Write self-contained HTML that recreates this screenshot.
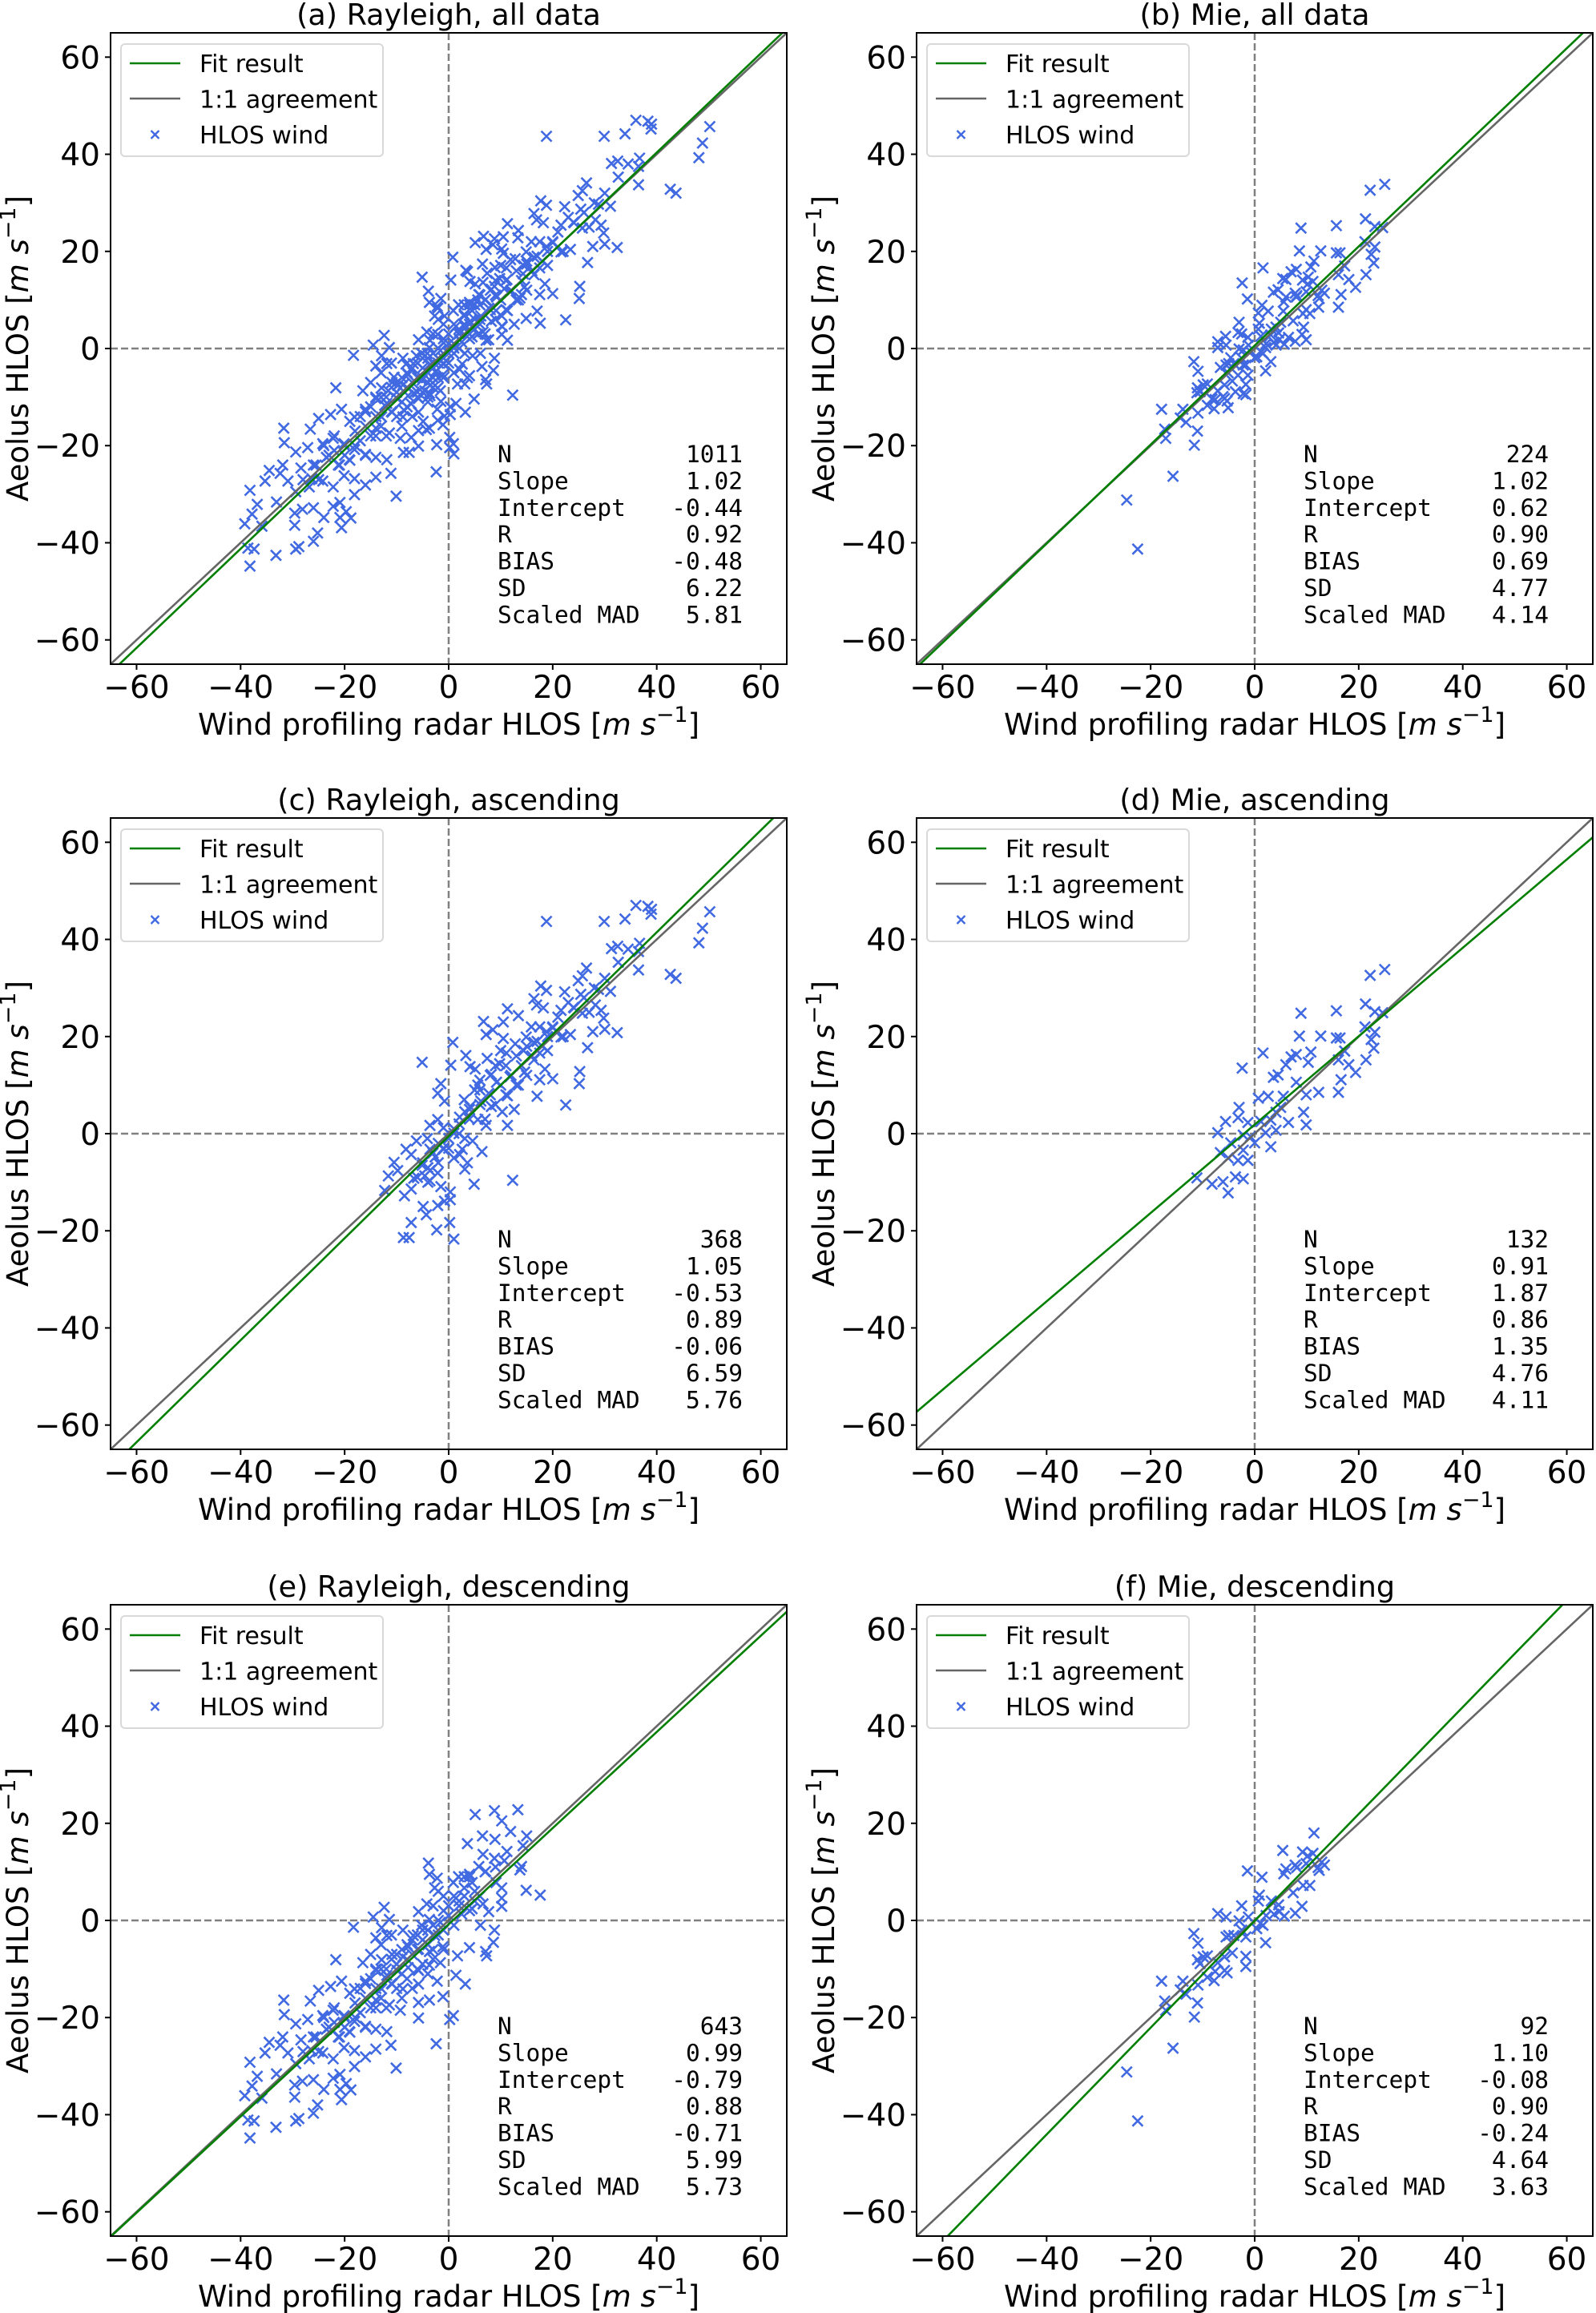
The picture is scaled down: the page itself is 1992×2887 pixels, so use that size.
<!DOCTYPE html>
<html><head><meta charset="utf-8">
<style>
html,body{margin:0;padding:0;background:#fff;}
svg{display:block;}
text{font-family:"DejaVu Sans","Liberation Sans",sans-serif;fill:#000;}
.mono{font-family:"DejaVu Sans Mono","Liberation Mono",monospace;}
</style></head>
<body>
<svg id="fig" width="1992" height="2887" viewBox="0 0 1992 2887" xmlns="http://www.w3.org/2000/svg"></svg>
<script>
// ---- data (units m/s) ----
const ptsC_x=[36,38.3,39,38.9,50.2,18.8,29.9,33.9,48.8,48.1,31.3,32.5,34.5,36.7,36.5,32.6,36.5,42.6,43.7,26.5,25.7,24.9,30,28.8,31.1,17.7,18.8,22.3,25.4,16.4,16.9,18.2,11.3,13.4,21.6,24.1,25.7,28.2,29.3,29.8,30,27.7,32.4,26.7,6.7,10.5,8.5,7.2,10.5,15.9,17.5,18.8,20,21.6,23.4,14.9,16.4,12.8,10,11.1,14.4,17.5,19,16.4,14.6,18.5,20,17.5,25.2,25.1,3.3,4.1,5.1,7.4,8.2,9.8,11.8,13.4,9.2,5.6,7.7,11.3,12.6,11.3,10.3,8.2,6.2,4.1,3.1,2.1,5.6,7.2,17,22.5,-5.1,0.8,0.4,-1.5,-2.1,-0.8,-3.6,-2.1,-1,1,3.1,4.6,6.4,2.6,2.1,3.6,3.1,-6.2,-8.2,-7.2,-4.1,-3.6,-2.6,-1,-10.5,-11.6,-9.8,-5.1,-3.6,-2.1,-6.7,-7.2,-8.5,-4.6,-3.6,-1.5,0.3,0.3,4.9,12.3,-4.9,-2.1,-0.8,-4.3,-7.2,0.2,-2.3,-8.7,-7.6,1,-12.3,0,1,-2,2,4,6,8,10,12,14,16,7,9,11,13,15,5,3,-3,-5,-1,18,20,22,6,9,1,-4,-6,24,26,28,21,19,17,13,11,8,6,4,2,0,-2,-4,15,23,27];
const ptsC_y=[47.0,46.8,46.2,45.2,45.7,43.7,43.7,44.2,42.3,39.3,38.1,38.6,38.0,39.2,37.5,35.3,33.7,32.8,32.0,34.1,32.5,31.5,32.0,29.7,29.3,30.4,29.5,29.2,28.7,27.8,26.5,25.9,25.7,24.3,25.4,25.9,24.8,26.5,25.4,23.8,21.5,21.0,20.8,17.7,23.1,23.0,21.4,20.4,19.6,22.0,22.0,21.0,21.8,19.9,20.4,19.9,18.8,18.5,17.1,16.6,17.1,16.6,17.1,15.2,12.7,13.3,11.3,11.1,12.8,10.3,16.1,13.8,13.3,15.5,12.2,14.4,11.7,10.0,10.6,10.0,8.3,7.8,5.0,1.7,4.5,5.6,6.7,5.6,4.5,3.4,2.9,1.7,7.7,5.9,14.7,18.8,14.1,10.3,8.3,6.7,1.7,2.9,1.2,0.1,-1.0,-1.5,-3.7,-3.2,-4.3,-6.0,-7.3,-1.5,-3.2,-4.3,-1.0,-3.2,-4.8,-3.2,-5.9,-8.7,-7.6,-6.5,-7.6,-8.1,-9.2,-11.4,-12.8,-8.7,-9.7,-10.9,-12.0,-13.6,-10.4,-9.6,-15.0,-14.8,-13.9,-16.7,-18.3,-18.3,-19.8,-21.4,-21.4,-21.7,-11.7,-1,1,-2,2,5,6,8,10,12,14,16,3,6,8,10,12,9,7,-4,-6,-3,18,22,20,11,14,-5,-10,-9,26,28,30,24,20,19,16,14,12,9,3,0,-3,-6,-7,18,27,25];
const ptsE_x=[13.3,8.8,5.1,10.2,11.9,6.5,8.9,15,3.6,14.3,11.2,6.6,8.8,10.7,14,13.7,5.8,7.1,4,1.9,0.9,3,4.5,9.1,10.2,14.9,17.6,10.2,10.2,6.6,7.7,4.5,1.4,2.5,6.1,8.8,8.6,7.1,7.3,4,1.7,1.4,3.2,0.9,0.2,-2.4,-3.9,-3.7,-2.2,-2.7,-4.2,-5.8,-12.4,-14.5,-18.3,-11.4,-12.9,-14,-11.9,-8.8,-6.8,-5.2,-3.7,-1.6,-2.7,-1.1,-3.7,-5.8,-7.8,-8.8,-10.9,-12.9,-15,-16.5,-21.7,-14,-11.9,-9.9,-7.8,-5.8,-3.7,-1.6,-2.2,-5.8,-8.8,-10.9,-12.9,-14,-11.4,-9.3,-5.8,-3.7,-1.1,-5.8,-16,-18.1,-20.6,-22.7,-25,-26.6,-31.7,-31.6,-29.4,-27.1,-24.2,-22.2,-20.1,-18.1,-16,-14,-11.9,-19.1,-21.2,-23.5,-25.5,-26.3,-28.4,-31.9,-34.5,-32.4,-30.9,-35.3,-29.4,-26.8,-24.2,-22.2,-20.1,-18.1,-16,-14,-11.1,-10.1,-18.1,-20.9,-22.2,-26,-28.1,-29.6,-24,-19.7,-18.8,-20.9,-20.6,-29.6,-33.1,-36.8,-38.2,-37.8,-39.2,-35.9,-25.2,-26,-28.8,-29.4,-38.6,-37.4,-33.2,-38.2,-2,-4,-6,-8,-10,-12,-14,-16,-18,-6,-8,-10,-3,-5,-1,0,2,3,5,1,-7,-9,-11,-13,-15,-17,-19,-4,-7,-9,-12,-14,-16,-2,1,3,5,-1,-3,-5,-20,-22,-13,-11,-24,-26,-28,-22,-20,-18,-16,-14,-12,-10,-8,-6,-4,-2,-1,0,2,4,6,-9,-11,-13,-15,-17,-19,-21,-23,-25,-7,-5,-3,-3,-1,4,7,9];
const ptsE_y=[22.8,22.6,21.8,20.5,18.3,17.4,16.7,17.4,15.8,15.4,14.2,13.6,12.8,12.3,11.1,10.4,11.1,10.1,9.5,9.0,7.8,6.7,7.8,7.8,6.7,6.2,5.2,4.6,2.9,3.4,1.8,2.4,4.6,1.3,-1.0,-2.0,-4.5,-6.4,-7.3,-5.6,-7.3,-11.3,-13.1,-19.6,-20.4,-25.4,11.8,9.5,8.7,6.7,3.4,1.8,2.7,0.7,-1.4,0.2,-1.5,-3.6,-3.1,-2.0,-3.1,-1.0,0.2,-0.4,-3.1,-5.4,-6.4,-5.9,-5.4,-7.5,-7.0,-8.1,-7.0,-8.7,-8.1,-10.3,-11.3,-10.3,-9.7,-10.3,-9.2,-8.7,-12.5,-13.1,-14.1,-13.1,-14.1,-16.4,-17.4,-18.5,-16.9,-16.4,-15.7,-20.1,-12.5,-14.1,-12.5,-13.6,-14.4,-16.6,-16.4,-19.4,-21.3,-20.4,-19.6,-18.5,-19.6,-20.8,-21.8,-22.4,-22.9,-22.9,-24.0,-22.4,-24.0,-26.8,-24.6,-24.0,-25.1,-25.7,-27.3,-27.3,-29.5,-28.5,-27.3,-28.5,-26.2,-26.8,-28.1,-26.5,-25.7,-30.4,-30.1,-31.7,-32.5,-32.8,-33.1,-33.9,-34.8,-33.6,-34.9,-34.8,-36.9,-36.4,-31.6,-32.1,-29.2,-34.1,-36.1,-36.6,-38.0,-39.7,-40.8,-41.3,-41.1,-41.3,-42.6,-44.8,-3,-5,-6,-8,-9,-12,-14,-16,-17,-10,-12,-14,-8,-9,-2,1,3,5,4,-1,-4,-6,-8,-10,-12,-14,-15,-11,-14,-16,-18,-18,-22,6,5,9,6,-6,-1,-2,-20,-21,-5,-3,-20,-24,-27,-18,-22,-20,-13,-10,-10,-7,-5,-3,-2,0,2,3,4,2,5,-11,-13,-16,-18,-19,-23,-24,-22,-27,-7,-4,-6,3,5,9,10,11];
const ptsD_x=[25,22.2,21.3,24.6,23.1,8.9,15.7,21.2,23.1,22.4,22.9,21.4,19.4,18.1,16.1,17.3,15.7,16.4,12.7,8.6,10.8,8,10.3,6,7,3.6,4.5,1.6,-2.4,16.1,16.6,12.3,9.9,9.4,9.9,8,5.5,2.6,0.7,5,4.1,3.1,1.2,2.1,4.1,6.5,3.1,-3,-3.2,-1.3,-5.6,-7.1,-2.2,-0.8,-4.6,-6.6,-5.1,-3.2,-1.3,-2.2,-11.1,-8.2,-6.1,-3.7,-2.2,-5.1,0];
const ptsD_y=[33.8,32.6,26.7,24.9,25.1,24.8,25.3,22,20.9,19.4,17.6,15.2,12.6,14.2,15.2,17,19.7,19.7,20.1,20.1,16.8,16.3,14.7,14.2,15.8,11.6,12.1,16.6,13.5,8.5,11.1,8.5,8,4.4,1.8,10.6,7.7,7.7,7.3,5.4,4.4,2.8,2.5,0.2,0.7,2.3,-2.7,5.4,3.3,2.3,2.5,0.2,-0.3,-0.6,-1.9,-3.9,-5,-5.5,-5.5,-3.4,-9.1,-10.4,-9.9,-8.9,-9.3,-12.2,-1.9];
const ptsF_x=[11.4,5.4,9.2,11.2,10.2,7.8,8.1,9.9,6,5.6,12.9,12.4,13.4,12.2,-1.4,1.4,9.3,10.6,7.4,0.9,0.7,3.2,4.6,-2.5,9.1,7.8,-7.1,-5.5,-1.2,-3,2.2,3.7,5.7,4.7,1.1,0.4,1.6,-11.7,-5,-5.5,-4,-1.7,-2.5,-10.9,2.1,-4.3,-5.8,-1.7,-11,-9.9,-9.1,-10.5,-1.7,-7.1,-5.8,-5.3,-7.6,-9.1,-7.8,-17.9,-13.8,-10.9,-13.2,-14.3,-17.3,-17.1,-11,-11.6,-15.7,-24.6,-22.5];
const ptsF_y=[18.0,14.4,14.1,13.8,13.3,11.4,10.9,11.7,10.6,9.6,12.0,10.3,11.4,10.9,10.2,8.9,7.2,7.2,5.7,5.2,4.0,4.0,3.2,3.0,2.9,1.5,1.4,0.7,0.7,-0.1,1.0,1.3,0.9,1.8,-0.6,-1.7,-1.0,-2.7,-3.1,-3.4,-3.1,-3.4,-2.0,-4.7,-4.6,-6.7,-7.5,-7.4,-8.1,-7.5,-7.3,-8.9,-9.5,-8.7,-10.3,-10.8,-10.5,-11.7,-12.4,-12.5,-12.5,-13.3,-15.2,-14.3,-16.6,-18.5,-17.0,-19.9,-26.3,-31.2,-41.3];
const panelTitles=["(a) Rayleigh, all data","(b) Mie, all data","(c) Rayleigh, ascending","(d) Mie, ascending","(e) Rayleigh, descending","(f) Mie, descending"];
const fitSlopes=[1.02,1.02,1.05,0.91,0.99,1.10];
const fitIntercepts=[-0.44,0.62,-0.53,1.87,-0.79,-0.08];
const statN=["1011","224","368","132","643","92"];
const statR=["0.92","0.90","0.89","0.86","0.88","0.90"];
const statBias=["-0.48","0.69","-0.06","1.35","-0.71","-0.24"];
const statSD=["6.22","4.77","6.59","4.76","5.99","4.64"];
const statMAD=["5.81","4.14","5.76","4.11","5.73","3.63"];
const tickVals=[-60,-40,-20,0,20,40,60];
const tickLabels=["\u221260","\u221240","\u221220","0","20","40","60"];
const panelXs=[ptsC_x.concat(ptsE_x),ptsD_x.concat(ptsF_x),ptsC_x,ptsD_x,ptsE_x,ptsF_x];
const panelYs=[ptsC_y.concat(ptsE_y),ptsD_y.concat(ptsF_y),ptsC_y,ptsD_y,ptsE_y,ptsF_y];

// ---- drawing ----
const NS="http://www.w3.org/2000/svg";
const svg=document.getElementById('fig');
function mk(tag,attrs,parent){const e=document.createElementNS(NS,tag);for(const k in attrs)e.setAttribute(k,attrs[k]);(parent||svg).appendChild(e);return e;}
const colL=[138,1144], rowT=[41,1021,2003], W=844, H=788, LIM=65;

for(let p=0;p<6;p++){
  const L=colL[p%2], T=rowT[Math.floor(p/2)];
  const sx=v=>L+(v+LIM)/(2*LIM)*W;
  const sy=v=>T+H-(v+LIM)/(2*LIM)*H;
  const g=mk('g',{});
  
  
  const cid='clip'+p;
  const cp=mk('clipPath',{id:cid},g); mk('rect',{x:L,y:T,width:W,height:H},cp);
  const t=mk('text',{x:L+W/2,y:T-10,'text-anchor':'middle','font-size':36.5},g);
  t.textContent=panelTitles[p];
  
  
  const z1=mk('line',{x1:L,x2:L+W,y1:sy(0),y2:sy(0),stroke:'#808080','stroke-width':2.5,'stroke-dasharray':'9,4'},g);
  
  
  const z2=mk('line',{x1:sx(0),x2:sx(0),y1:T,y2:T+H,stroke:'#808080','stroke-width':2.5,'stroke-dasharray':'9,4'},g);
  
  
  const pg=mk('g',{'clip-path':'url(#'+cid+')'},g);
  
  
  const xs=panelXs[p], ys=panelYs[p];
  let d='';
  for(let i=0;i<xs.length;i++){const cx=sx(xs[i]),cy=sy(ys[i]),r=6.5;
    d+=`M${cx-r},${cy-r}L${cx+r},${cy+r}M${cx-r},${cy+r}L${cx+r},${cy-r}`;}
  const pts=mk('path',{d:d,stroke:'#4169e1','stroke-width':2.6,fill:'none'},pg);
  
  
  const one=mk('line',{x1:sx(-LIM),y1:sy(-LIM),x2:sx(LIM),y2:sy(LIM),stroke:'#666666','stroke-width':2.6},pg);
  
  
  const a=fitSlopes[p], b=fitIntercepts[p];
  const fit=mk('line',{x1:sx(-LIM),y1:sy(a*-LIM+b),x2:sx(LIM),y2:sy(a*LIM+b),stroke:'#007f00','stroke-width':2.6},pg);
  
  
  const fr=mk('rect',{x:L,y:T,width:W,height:H,fill:'none',stroke:'#000','stroke-width':2},g);
  
  
  for(let i=0;i<tickVals.length;i++){
    const v=tickVals[i];
    mk('line',{x1:sx(v),x2:sx(v),y1:T+H,y2:T+H+7,stroke:'#000','stroke-width':2},g);
    const xt=mk('text',{x:sx(v),y:T+H+42,'text-anchor':'middle','font-size':39},g);
    xt.textContent=tickLabels[i];
    
    
    mk('line',{x1:L-7,x2:L,y1:sy(v),y2:sy(v),stroke:'#000','stroke-width':2},g);
    const yt=mk('text',{x:L-13,y:sy(v)+14,'text-anchor':'end','font-size':39},g);
    yt.textContent=tickLabels[i];
    
    
  }
  const xl=mk('text',{x:L+W/2,y:T+H+88,'text-anchor':'middle','font-size':37},g);
  xl.innerHTML='Wind profiling radar HLOS [<tspan font-style="italic">m s</tspan><tspan dy="-16" font-size="27">\u22121</tspan><tspan dy="16">]</tspan>';
  
  
  const yl=mk('text',{x:0,y:0,'text-anchor':'middle','font-size':37,transform:`translate(${L-103},${T+H/2}) rotate(-90)`},g);
  yl.innerHTML='Aeolus HLOS [<tspan font-style="italic">m s</tspan><tspan dy="-16" font-size="27">\u22121</tspan><tspan dy="16">]</tspan>';
  
  
  const lg=mk('g',{},g);
  
  
  mk('rect',{x:L+13,y:T+14,width:327,height:140,rx:5,fill:'#fff','fill-opacity':0.8,stroke:'#d9d9d9','stroke-width':2},lg);
  const lx1=L+24,lx2=L+87,tx=L+111;
  mk('line',{x1:lx1,x2:lx2,y1:T+38,y2:T+38,stroke:'#007f00','stroke-width':2.6},lg);
  mk('line',{x1:lx1,x2:lx2,y1:T+82,y2:T+82,stroke:'#666666','stroke-width':2.6},lg);
  const mx=(lx1+lx2)/2,my=T+127,r=5;
  mk('path',{d:`M${mx-r},${my-r}L${mx+r},${my+r}M${mx-r},${my+r}L${mx+r},${my-r}`,stroke:'#4169e1','stroke-width':2.4},lg);
  const leg=["Fit result","1:1 agreement","HLOS wind"];
  for(let i=0;i<3;i++){
    const lt=mk('text',{x:tx,y:T+49+i*44.5,'font-size':30},lg);
    lt.textContent=leg[i];
    
    
  }
  const labels=["N","Slope","Intercept","R","BIAS","SD","Scaled MAD"];
  const vals=[statN[p],fitSlopes[p].toFixed(2),fitIntercepts[p].toFixed(2),statR[p],statBias[p],statSD[p],statMAD[p]];
  for(let i=0;i<7;i++){
    const y=T+536+i*33.4;
    const s1=mk('text',{x:L+483,y:y,'font-size':29.5,class:'mono'},g);
    s1.textContent=labels[i];
    
    
    const s2=mk('text',{x:L+789,y:y,'font-size':29.5,'text-anchor':'end',class:'mono'},g);
    s2.textContent=vals[i];
    
    
  }
}
</script>
</body></html>
